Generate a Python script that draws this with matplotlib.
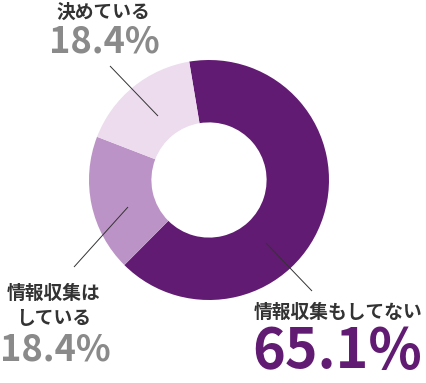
import matplotlib
matplotlib.use("Agg")
import matplotlib.pyplot as plt

# data
categories = ["情報収集もしてない", "情報収集は\nしている", "決めている"]
values = [65.1, 18.4, 16.5]
pct_labels = ["65.1%", "18.4%", "18.4%"]
colors = ["#621B72", "#BC93C6", "#ECDCEE"]

plt.rcParams['font.family'] = ['Noto Sans CJK JP', 'DejaVu Sans']

W, H = 427, 383
fig = plt.figure(figsize=(W / 100, H / 100), dpi=100)
ax = fig.add_axes([0, 0, 1, 1])

def Y(y):
    return H - y

cx, cy, R = 209, 180, 120
ax.pie(values, colors=colors, startangle=99.5, counterclock=False,
       center=(cx, Y(cy)), radius=R,
       wedgeprops=dict(width=R * 0.52, linewidth=0))

ax.set_xlim(0, W)
ax.set_ylim(0, H)
ax.set_aspect('equal')
ax.axis('off')

# leader lines
lines = [((266, 243), (312, 291)), ((128, 207), (74, 267)), ((158, 116), (110, 66))]
for (x1, y1), (x2, y2) in lines:
    ax.plot([x1, x2], [Y(y1), Y(y2)], color="#333333", lw=0.7, solid_capstyle='butt')

lab_color = "#333333"
gray = "#8A8A8A"
lab_fs = 13.5
lab_w = 'bold'
pct_w = 'bold'

# 決めている
ax.text(103, Y(12), categories[2], ha='center', va='center', fontsize=lab_fs,
        color=lab_color, fontweight=lab_w)
ax.text(104, Y(42), pct_labels[2], ha='center', va='center', fontsize=26,
        color=gray, fontweight=pct_w)

# 情報収集はしている
ax.text(54, Y(306), categories[1], ha='center', va='center', fontsize=lab_fs,
        color=lab_color, fontweight=lab_w, linespacing=1.45)
ax.text(55, Y(350), pct_labels[1], ha='center', va='center', fontsize=26,
        color=gray, fontweight=pct_w)

# 情報収集もしてない
ax.text(338, Y(312), categories[0], ha='center', va='center', fontsize=lab_fs,
        color=lab_color, fontweight=lab_w)
ax.text(337, Y(352), pct_labels[0], ha='center', va='center', fontsize=40,
        color=colors[0], fontweight=pct_w)

fig.savefig("out.png", dpi=100)
